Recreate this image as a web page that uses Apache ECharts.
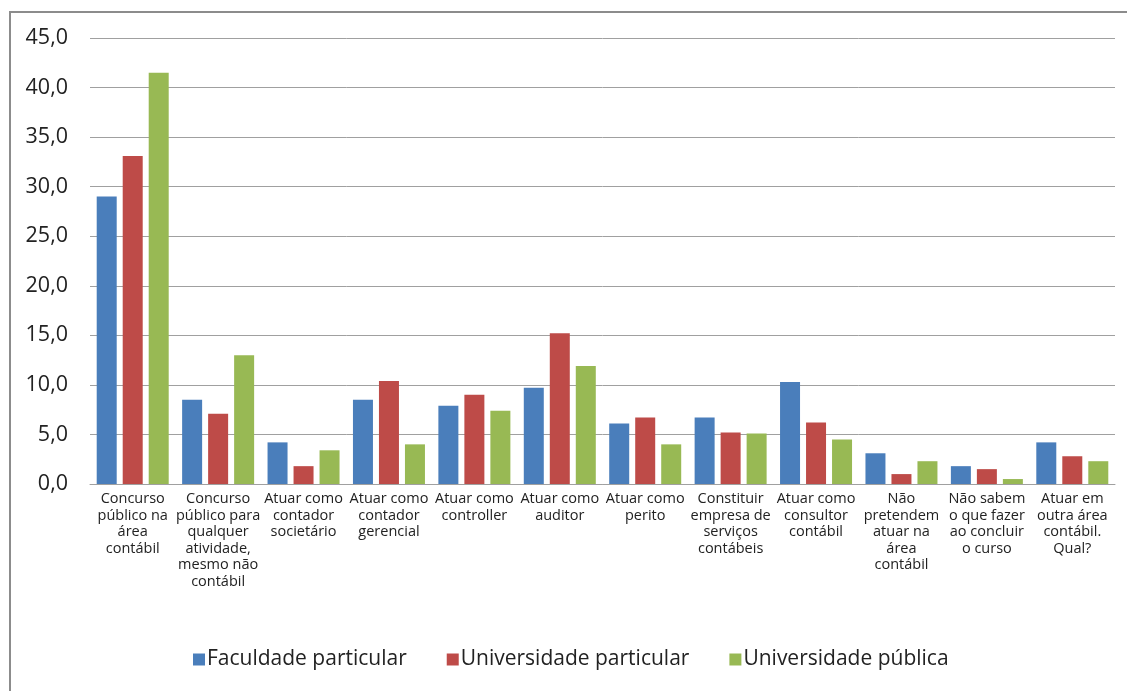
<!DOCTYPE html>
<html><head><meta charset="utf-8">
<script src="https://cdn.jsdelivr.net/npm/echarts@6/dist/echarts.min.js"></script>
<style>html,body{margin:0;padding:0;background:#fff}#c{width:1127px;height:691px}</style>
</head><body><div id="c"></div>
<script>
const categories = [
  "Concurso\npúblico na\nárea\ncontábil",
  "Concurso\npúblico para\nqualquer\natividade,\nmesmo não\ncontábil",
  "Atuar como\ncontador\nsocietário",
  "Atuar como\ncontador\ngerencial",
  "Atuar como\ncontroller",
  "Atuar como\nauditor",
  "Atuar como\nperito",
  "Constituir\nempresa de\nserviços\ncontábeis",
  "Atuar como\nconsultor\ncontábil",
  "Não\npretendem\natuar na\nárea\ncontábil",
  "Não sabem\no que fazer\nao concluir\no curso",
  "Atuar em\noutra área\ncontábil.\nQual?"
];
const seriesNames = ["Faculdade particular", "Universidade particular", "Universidade pública"];
const faculdadeParticular = [29.0, 8.5, 4.2, 8.5, 7.9, 9.7, 6.1, 6.7, 10.3, 3.1, 1.8, 4.2];
const universidadeParticular = [33.1, 7.1, 1.8, 10.4, 9.0, 15.2, 6.7, 5.2, 6.2, 1.0, 1.5, 2.8];
const universidadePublica = [41.5, 13.0, 3.4, 4.0, 7.4, 11.9, 4.0, 5.1, 4.5, 2.3, 0.5, 2.3];
const colors = ["#4A7EBB", "#BE4B48", "#98B954"];

const chart = echarts.init(document.getElementById('c'), null, {renderer: 'canvas'});
const font = "'Open Sans', 'Noto Sans', sans-serif";
const mk = (name, data, i) => ({
  name, type: 'bar', data, barWidth: 20, barGap: '30%',
  itemStyle: {color: colors[i]}
});
chart.setOption({
  animation: false,
  backgroundColor: '#fff',
  graphic: [{
    type: 'rect', shape: {x: 10, y: 12, width: 1130, height: 700},
    style: {fill: 'none', stroke: '#8c8c8c', lineWidth: 2}
  }],
  grid: {left: 90, right: 12, top: 38, bottom: 207},
  legend: {
    bottom: 16, left: 188, itemWidth: 12, itemHeight: 12, itemGap: 40,
    icon: 'rect',
    textStyle: {fontFamily: font, fontSize: 21, color: '#222', padding: [0, 0, 0, -3]},
    data: seriesNames
  },
  xAxis: {
    type: 'category', data: categories,
    axisLine: {lineStyle: {color: '#a0a0a0', width: 1}},
    axisTick: {show: false},
    axisLabel: {interval: 0, fontFamily: font, fontSize: 14.5, color: '#222', lineHeight: 16.5, margin: 7}
  },
  yAxis: {
    type: 'value', min: 0, max: 45, interval: 5,
    axisLine: {show: false}, axisTick: {show: false},
    splitLine: {lineStyle: {color: '#a0a0a0', width: 1}},
    axisLabel: {
      fontFamily: font, fontSize: 21.5, color: '#222', margin: 22,
      formatter: v => v.toFixed(1).replace('.', ',')
    }
  },
  series: [
    mk(seriesNames[0], faculdadeParticular, 0),
    mk(seriesNames[1], universidadeParticular, 1),
    mk(seriesNames[2], universidadePublica, 2)
  ]
});
</script></body></html>
